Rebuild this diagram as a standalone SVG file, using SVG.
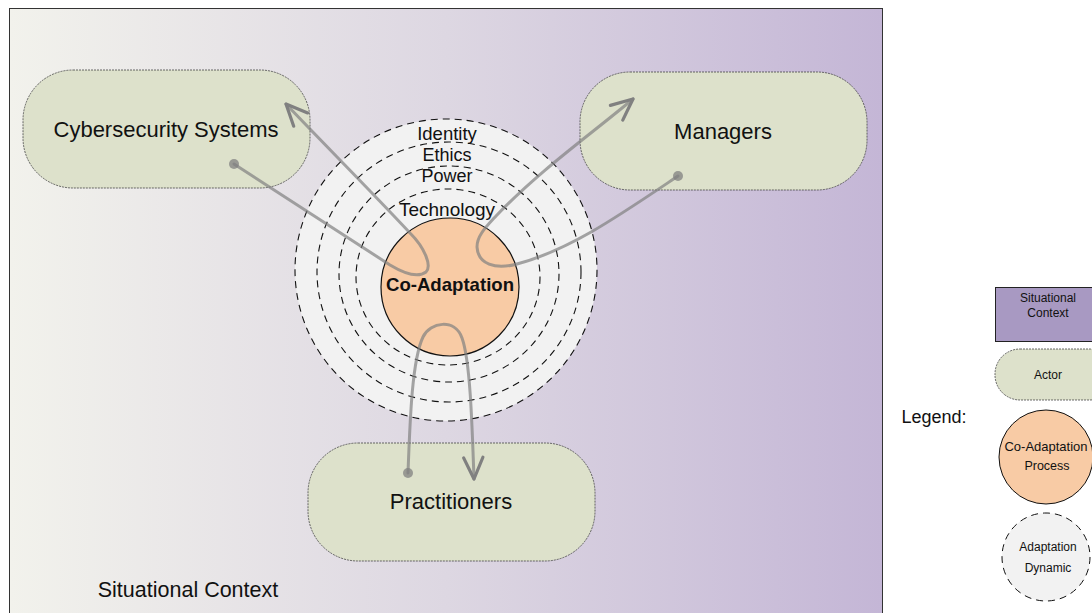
<svg xmlns="http://www.w3.org/2000/svg" width="1092" height="613" viewBox="0 0 1092 613">
  <defs>
    <linearGradient id="ctx" x1="0" y1="0" x2="1" y2="0">
      <stop offset="0" stop-color="#f2f2ec"/>
      <stop offset="0.5" stop-color="#ddd7e2"/>
      <stop offset="1" stop-color="#c4b6d6"/>
    </linearGradient>
    <marker id="arr" markerUnits="userSpaceOnUse" markerWidth="30" markerHeight="30" viewBox="-24 -12 28 24" refX="0" refY="0" orient="auto">
      <path d="M-20,-9 L0,0 L-20,9" fill="none" stroke="#808080" stroke-width="3" stroke-linecap="round" stroke-linejoin="round"/>
    </marker>
    <style>
      .lbl { font-family: "Liberation Sans", Arial, sans-serif; fill: #111; text-anchor: middle; }
      .actor { fill: #dde1cb; stroke: #444; stroke-width: 0.8; stroke-dasharray: 2 1; }
      .ring { fill: none; stroke: #111; stroke-width: 1.1; stroke-dasharray: 7 5; }
      .conn { fill: none; stroke: #808080; stroke-opacity: 0.7; stroke-width: 3; stroke-linecap: round; }
      .dot { fill: #808080; fill-opacity: 0.75; }
    </style>
  </defs>

  <g id="situational-context">
    <rect x="9.5" y="8.5" width="873" height="620" fill="url(#ctx)" stroke="#333" stroke-width="1"/>
    <text class="lbl" x="188" y="597" font-size="21.5">Situational Context</text>
  </g>

  <g id="adaptation-dynamics">
    <circle cx="446" cy="270" r="151" fill="#f2f2f2"/>
    <text class="lbl" x="447" y="140" font-size="18.5">Identity</text>
    <text class="lbl" x="447" y="161" font-size="18">Ethics</text>
    <text class="lbl" x="447" y="182" font-size="18">Power</text>
    <text class="lbl" x="447" y="216" font-size="19">Technology</text>
    <ellipse class="ring" cx="446" cy="270" rx="151" ry="151"/>
    <ellipse class="ring" cx="449" cy="272" rx="132" ry="130"/>
    <ellipse class="ring" cx="449" cy="274" rx="110" ry="108"/>
    <ellipse class="ring" cx="448" cy="277" rx="92" ry="88"/>
  </g>

  <g id="co-adaptation">
    <circle cx="450" cy="287" r="69" fill="#f8cba5" stroke="#111" stroke-width="1.2"/>
    <text class="lbl" x="450" y="291" font-size="18.6" font-weight="bold">Co-Adaptation</text>
  </g>

  <g id="cybersecurity-systems">
    <rect class="actor" x="23" y="70" width="287" height="118" rx="50" ry="50"/>
    <text class="lbl" x="166" y="137" font-size="22">Cybersecurity Systems</text>
  </g>

  <g id="managers">
    <rect class="actor" x="580" y="72" width="287" height="118" rx="50" ry="50"/>
    <text class="lbl" x="723" y="139" font-size="22">Managers</text>
  </g>

  <g id="practitioners">
    <rect class="actor" x="308" y="443" width="287" height="118" rx="50" ry="50"/>
    <text class="lbl" x="451" y="509" font-size="22">Practitioners</text>
  </g>

  <g id="connectors">
    <path class="conn" marker-end="url(#arr)" d="M234,164 C300,207 360,245 390,265 C405,274 418,278 426,272 C432,266 425,248 410,233 C370,190 320,140 286,104"/>
    <circle class="dot" cx="234" cy="164" r="5"/>
    <path class="conn" marker-end="url(#arr)" d="M678,176 C620,215 570,250 517,264 C495,270 478,264 477,247 C477,236 485,228 496,216 C540,170 590,135 633,99"/>
    <circle class="dot" cx="678" cy="176" r="5"/>
    <path class="conn" marker-end="url(#arr)" d="M408,473 C410,420 412,360 423,337 C430,322 455,318 462,338 C470,360 472,420 474,479"/>
    <circle class="dot" cx="408" cy="473" r="5"/>
  </g>

  <g id="legend">
    <text class="lbl" x="934" y="423" font-size="18">Legend:</text>
    <g id="legend-context">
      <rect x="995.5" y="287.5" width="110" height="54" fill="#a899c2" stroke="#222" stroke-width="1"/>
      <text class="lbl" x="1048" y="302" font-size="12">Situational</text>
      <text class="lbl" x="1048" y="317" font-size="12">Context</text>
    </g>
    <g id="legend-actor">
      <rect class="actor" x="995" y="349" width="120" height="51" rx="25" ry="25"/>
      <text class="lbl" x="1048" y="379" font-size="12">Actor</text>
    </g>
    <g id="legend-process">
      <circle cx="1046" cy="457" r="47" fill="#f8cba5" stroke="#111" stroke-width="1"/>
      <text class="lbl" x="1046" y="451" font-size="13">Co-Adaptation</text>
      <text class="lbl" x="1047" y="470" font-size="12.5">Process</text>
    </g>
    <g id="legend-dynamic">
      <circle cx="1046" cy="557" r="44" fill="#f2f2f2" stroke="#111" stroke-width="1" stroke-dasharray="7 5"/>
      <text class="lbl" x="1048" y="551" font-size="12">Adaptation</text>
      <text class="lbl" x="1048" y="572" font-size="12">Dynamic</text>
    </g>
  </g>
</svg>
